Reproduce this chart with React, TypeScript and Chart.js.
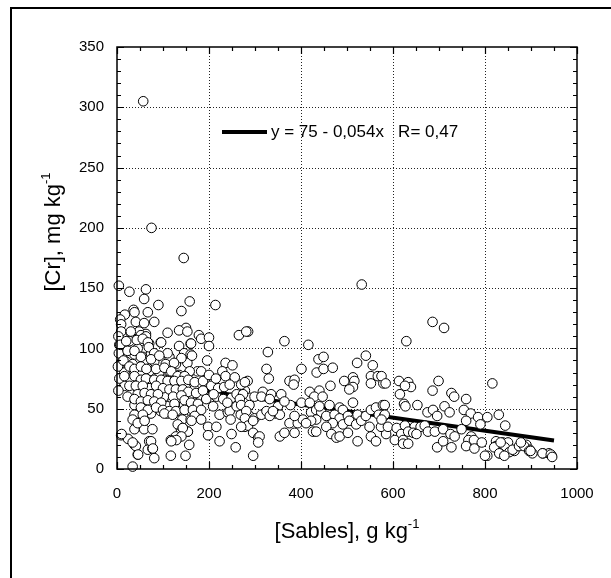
import React, { useEffect, useRef } from "react";
import { Chart, registerables } from "chart.js";

Chart.register(...registerables);

// Axis ticks
const xTicks = [0, 200, 400, 600, 800, 1000];
const yTicks = [0, 50, 100, 150, 200, 250, 300, 350];

// Regression: y = 75 - 0.054x
const regIntercept = 75;
const regSlope = -0.054;
const regX = [0, 950];
const legendText = "y = 75 - 0,054x   R= 0,47";

// Points [Sables g/kg, Cr mg/kg]
const outliers: [number, number][] = [
  [57, 305], [75, 200], [145, 175], [532, 153], [4, 152], [63, 149], [27, 147], [59, 141],
  [90, 136], [158, 139], [214, 136], [36, 132], [38, 130], [67, 130], [140, 131], [17, 128],
  [7, 124], [9, 120], [41, 122], [59, 121], [81, 122], [150, 117], [686, 122], [711, 117],
];

const denseLeft: [number, number][] = [
  [9, 114], [30, 113], [48, 114], [63, 112], [110, 113], [135, 115], [153, 114],
  [5, 103], [27, 106], [52, 106], [70, 104], [95, 105], [135, 102], [160, 104],
  [12, 95], [38, 95], [56, 93], [45, 100], [74, 96], [114, 93], [146, 96], [160, 95],
  [9, 88], [20, 89], [34, 87], [59, 88], [81, 89], [106, 87], [128, 87], [153, 88],
  [16, 80], [38, 81], [52, 78], [70, 81], [92, 80], [114, 81], [135, 78], [157, 80], [175, 81],
  [27, 74], [48, 73], [67, 74], [85, 72], [103, 74], [121, 73], [142, 74], [160, 71],
  [16, 69], [34, 67], [52, 66], [70, 67], [88, 66], [106, 66], [124, 67], [150, 67], [168, 66],
  [30, 62], [48, 60], [67, 60], [85, 59], [103, 60], [121, 57], [139, 59], [157, 60],
  [38, 53], [56, 55], [74, 52], [92, 53], [110, 52], [128, 52], [146, 53], [168, 55],
  [52, 48], [74, 46], [95, 48], [110, 46], [132, 48], [160, 48],
  [142, 41], [160, 41], [139, 33], [128, 27], [117, 24], [157, 20],
  [38, 41], [59, 41], [38, 33], [59, 33], [77, 33],
  [9, 28], [38, 20], [70, 23], [45, 12], [67, 16], [77, 17], [81, 9],
  [117, 11], [34, 2], [149, 11], [52, 111], [63, 110], [110, 96],
  [3, 110], [4, 96], [2, 85], [5, 75], [3, 65], [24, 25],
];

const denseLeft2: [number, number][] = [
  [30, 114], [96, 105], [7, 103], [20, 106], [43, 107], [56, 108], [67, 105], [69, 101],
  [81, 96], [23, 98], [38, 98], [14, 90], [27, 85], [38, 83], [60, 90], [74, 91], [52, 93],
  [92, 94], [140, 92], [124, 88], [158, 81], [52, 85], [64, 83], [85, 83], [103, 84], [118, 81],
  [132, 77], [147, 77], [16, 77], [38, 77], [52, 74], [63, 75], [81, 74], [96, 74], [110, 73],
  [125, 73], [140, 73], [155, 74], [27, 69], [41, 69], [56, 69], [85, 69], [100, 67],
  [114, 66], [128, 66], [143, 66], [155, 64], [45, 62], [60, 63], [74, 62], [89, 62],
  [122, 60], [140, 61], [23, 60], [38, 58], [52, 56], [67, 57], [81, 56], [96, 55], [125, 54],
  [147, 57], [161, 55], [52, 51], [67, 49], [85, 51], [100, 49], [114, 48], [128, 48],
  [147, 49], [103, 46], [121, 45], [38, 45], [56, 45], [34, 41], [45, 38], [60, 40],
  [132, 37], [143, 34], [154, 31], [74, 23], [78, 17], [41, 19], [46, 12], [34, 22], [10, 29],
];

const denseMid: [number, number][] = [
  [161, 104], [163, 94], [178, 111], [183, 108], [200, 109], [265, 111], [285, 114], [200, 102],
  [196, 90], [183, 81], [236, 88], [251, 86], [229, 81], [236, 77], [256, 76], [284, 73],
  [169, 72], [187, 73], [172, 63], [187, 65], [205, 69], [220, 67], [233, 68], [176, 54],
  [194, 58], [216, 60], [231, 58], [249, 59], [260, 62], [278, 65], [289, 59], [165, 49],
  [183, 49], [209, 52], [223, 45], [241, 47], [245, 48], [169, 44], [162, 40], [183, 41],
  [247, 41], [269, 45], [285, 41], [198, 35], [216, 35], [278, 35], [198, 28], [249, 29],
  [223, 23], [258, 18], [154, 31], [143, 34], [140, 27], [129, 24], [118, 23],
  [200, 78], [215, 75], [245, 70], [270, 70], [210, 62], [240, 55], [260, 52], [275, 55],
];

const centre: [number, number][] = [
  [281, 114], [364, 106], [416, 103], [328, 97], [438, 91], [449, 93], [522, 88], [541, 94],
  [556, 86], [325, 83], [330, 75], [401, 83], [434, 80], [449, 83], [469, 84], [552, 77],
  [567, 77], [552, 71], [579, 71], [375, 73], [386, 74], [384, 70], [278, 72], [464, 69],
  [494, 73], [513, 76], [516, 73], [513, 68], [505, 66], [274, 62], [267, 58], [270, 53],
  [299, 60], [317, 64], [314, 60], [335, 62], [332, 58], [357, 62], [419, 64], [440, 65],
  [429, 60], [447, 60], [401, 55], [419, 55], [377, 53], [350, 52], [346, 46], [354, 45],
  [288, 53], [288, 44], [299, 42], [281, 48], [278, 42], [314, 45], [325, 48], [332, 44],
  [339, 48], [364, 56], [375, 38], [393, 38], [404, 41], [386, 44], [422, 47], [433, 49],
  [444, 47], [433, 41], [422, 40], [440, 52], [462, 53], [484, 51], [491, 49], [513, 55],
  [455, 44], [473, 45], [484, 42], [502, 44], [516, 41], [523, 45], [469, 38], [491, 37],
  [505, 40], [520, 37], [531, 40], [541, 44], [552, 49], [563, 51], [578, 53], [569, 45],
  [581, 44], [411, 38], [426, 31], [285, 36], [296, 40], [270, 35], [296, 30], [307, 26],
  [310, 27], [307, 22], [354, 27], [364, 30], [386, 30], [433, 31], [455, 35], [466, 29],
  [477, 26], [484, 27], [502, 30], [523, 23], [552, 27], [563, 23], [585, 29], [549, 35],
  [574, 35], [296, 11],
];

const right: [number, number][] = [
  [629, 106], [575, 77], [584, 71], [613, 73], [633, 72], [639, 68], [626, 69], [615, 62],
  [624, 54], [627, 52], [686, 65], [699, 73], [727, 63], [733, 60], [759, 58], [816, 71],
  [582, 53], [582, 45], [575, 41], [653, 53], [675, 47], [687, 49], [696, 44], [712, 52],
  [723, 47], [754, 49], [769, 46], [785, 43], [805, 43], [830, 45], [759, 40], [790, 37],
  [844, 36], [589, 35], [608, 34], [626, 36], [647, 35], [660, 35], [618, 29], [633, 31],
  [644, 30], [651, 29], [604, 24], [622, 24], [622, 21], [633, 21], [669, 36], [676, 31],
  [691, 31], [709, 33], [725, 29], [734, 27], [749, 33], [696, 18], [709, 23], [727, 18],
  [770, 27], [764, 24], [776, 24], [759, 19], [777, 17], [793, 22], [805, 11], [824, 23],
  [824, 19], [839, 22], [850, 22], [843, 18], [853, 14], [864, 15], [890, 20], [897, 16],
  [832, 13],
];

const farRight: [number, number][] = [
  [800, 11], [820, 18], [834, 22], [831, 13], [842, 11], [860, 16], [874, 19], [885, 19],
  [896, 15], [903, 13], [926, 13], [939, 13], [945, 11], [878, 22], [899, 15], [925, 13],
  [943, 12], [946, 10],
];

const FONT = "'Liberation Sans', Arial, Helvetica, sans-serif";

const framePlugin = {
  id: "frame",
  beforeDraw(chart: any) {
    const { ctx, width, height } = chart;
    ctx.save();
    ctx.fillStyle = "#fff";
    ctx.fillRect(0, 0, width, height);
    ctx.restore();
  },
  beforeDatasetsDraw(chart: any) {
    const { ctx, chartArea: a, scales } = chart;
    const x = scales.x;
    const y = scales.y;
    ctx.save();
    ctx.strokeStyle = "#222";
    ctx.lineWidth = 1;
    ctx.setLineDash([1, 2]);
    xTicks.slice(1, -1).forEach((v) => {
      const px = Math.round(x.getPixelForValue(v)) + 0.5;
      ctx.beginPath();
      ctx.moveTo(px, a.top);
      ctx.lineTo(px, a.bottom);
      ctx.stroke();
    });
    yTicks.slice(1, -1).forEach((v) => {
      const py = Math.round(y.getPixelForValue(v)) + 0.5;
      ctx.beginPath();
      ctx.moveTo(a.left, py);
      ctx.lineTo(a.right, py);
      ctx.stroke();
    });
    ctx.restore();
  },
  afterDatasetsDraw(chart: any) {
    const { ctx, chartArea: a, scales } = chart;
    const x = scales.x;
    const y = scales.y;
    ctx.save();
    ctx.strokeStyle = "#000";
    ctx.lineWidth = 1.5;
    ctx.setLineDash([]);
    ctx.strokeRect(a.left, a.top, a.right - a.left, a.bottom - a.top);
    ctx.lineWidth = 1.2;
    for (let v = 0; v <= 350; v += 10) {
      const py = Math.round(y.getPixelForValue(v)) + 0.5;
      const len = v % 50 === 0 ? 7 : 4;
      ctx.beginPath();
      ctx.moveTo(a.left, py);
      ctx.lineTo(a.left + len, py);
      ctx.moveTo(a.right, py);
      ctx.lineTo(a.right - len, py);
      ctx.stroke();
    }
    for (let v = 0; v <= 1000; v += 50) {
      const px = Math.round(x.getPixelForValue(v)) + 0.5;
      const len = v % 200 === 0 ? 7 : 4;
      ctx.beginPath();
      ctx.moveTo(px, a.bottom);
      ctx.lineTo(px, a.bottom - len);
      ctx.moveTo(px, a.top);
      ctx.lineTo(px, a.top + len);
      ctx.stroke();
    }

    // legend
    ctx.lineWidth = 4;
    ctx.beginPath();
    ctx.moveTo(a.left + 105, a.top + 85);
    ctx.lineTo(a.left + 150, a.top + 85);
    ctx.stroke();
    ctx.fillStyle = "#000";
    ctx.font = `17px ${FONT}`;
    ctx.textBaseline = "middle";
    ctx.textAlign = "left";
    ctx.fillText(legendText, a.left + 154, a.top + 85);

    // x title
    const main = "[Sables], g kg";
    ctx.font = `22px ${FONT}`;
    const wMain = ctx.measureText(main).width;
    ctx.font = `13px ${FONT}`;
    const wSup = ctx.measureText("-1").width;
    const cx = (a.left + a.right) / 2;
    const startX = cx - (wMain + wSup) / 2;
    ctx.textBaseline = "alphabetic";
    ctx.font = `22px ${FONT}`;
    ctx.fillText(main, startX, 538);
    ctx.font = `13px ${FONT}`;
    ctx.fillText("-1", startX + wMain, 528);

    // y title
    const mainY = "[Cr], mg kg";
    ctx.save();
    ctx.translate(60, 232);
    ctx.rotate(-Math.PI / 2);
    ctx.font = `22px ${FONT}`;
    const wMY = ctx.measureText(mainY).width;
    ctx.font = `13px ${FONT}`;
    const wSY = ctx.measureText("-1").width;
    const sY = -(wMY + wSY) / 2;
    ctx.font = `22px ${FONT}`;
    ctx.fillText(mainY, sY, 0);
    ctx.font = `13px ${FONT}`;
    ctx.fillText("-1", sY + wMY, -10);
    ctx.restore();

    // outer frame
    ctx.lineWidth = 2;
    ctx.beginPath();
    ctx.moveTo(11, 578);
    ctx.lineTo(11, 8);
    ctx.lineTo(611, 8);
    ctx.stroke();
    ctx.restore();
  },
};

export default function App() {
  const ref = useRef<HTMLCanvasElement>(null);
  useEffect(() => {
    if (!ref.current) return;
    const pts = [
      ...outliers,
      ...denseLeft,
      ...denseLeft2,
      ...denseMid,
      ...centre,
      ...right,
      ...farRight,
    ].map(([sx, cr]) => ({ x: sx, y: cr }));
    const reg = regX.map((v) => ({ x: v, y: regIntercept + regSlope * v }));
    const chart = new Chart(ref.current, {
      type: "scatter",
      data: {
        datasets: [
          {
            type: "line",
            data: reg,
            borderColor: "#000",
            borderWidth: 4,
            pointRadius: 0,
            showLine: true,
            fill: false,
            order: 2,
          } as any,
          {
            data: pts,
            pointRadius: 4.8,
            pointBackgroundColor: "#fff",
            pointBorderColor: "#000",
            pointBorderWidth: 1,
            clip: false,
            order: 1,
          } as any,
        ],
      },
      options: {
        responsive: false,
        animation: false,
        layout: { padding: { left: 0, top: 47, right: 34, bottom: 0 } },
        plugins: { legend: { display: false }, tooltip: { enabled: false } },
        scales: {
          x: {
            type: "linear",
            min: 0,
            max: 1000,
            afterFit: (s: any) => {
              s.height = 109;
            },
            afterBuildTicks: (s: any) => {
              s.ticks = xTicks.map((v) => ({ value: v }));
            },
            ticks: {
              color: "#000",
              font: { size: 15, family: FONT },
              padding: 16,
              maxRotation: 0,
              callback: (v: any) => String(v),
            },
            grid: { display: false, drawTicks: false },
            border: { display: false },
          },
          y: {
            type: "linear",
            min: 0,
            max: 350,
            afterFit: (s: any) => {
              s.width = 117;
            },
            afterBuildTicks: (s: any) => {
              s.ticks = yTicks.map((v) => ({ value: v }));
            },
            ticks: {
              color: "#000",
              font: { size: 15, family: FONT },
              padding: 13,
              callback: (v: any) => String(v),
            },
            grid: { display: false, drawTicks: false },
            border: { display: false },
          },
        },
      },
      plugins: [framePlugin],
    });
    return () => chart.destroy();
  }, []);
  return (
    <div style={{ position: "absolute", left: 0, top: 0, width: 611, height: 578 }}>
      <canvas ref={ref} width={611} height={578} style={{ display: "block" }} />
    </div>
  );
}
